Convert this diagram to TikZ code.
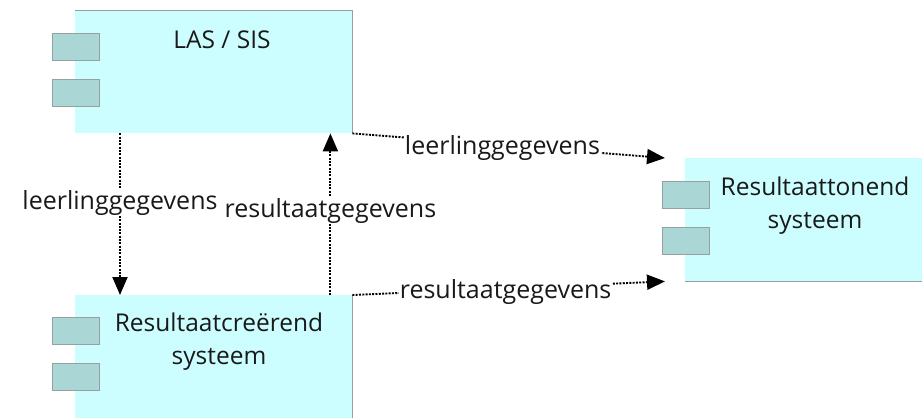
\documentclass[tikz,border=0pt]{standalone}
\usepackage{fontspec}
\setmainfont{Open Sans}
\usetikzlibrary{arrows.meta,calc}
\definecolor{boxfill}{RGB}{204,254,255}
\definecolor{portfill}{RGB}{170,214,214}
\definecolor{edgegray}{RGB}{150,160,160}
\definecolor{txt}{RGB}{25,25,25}
\tikzset{
  sysbox/.style={fill=boxfill, draw=none, inner sep=0pt, anchor=north west},
  port/.style={fill=portfill, draw=edgegray, line width=0.8pt, minimum width=47pt, minimum height=27pt, inner sep=0pt, anchor=north west},
  flow/.style={draw=black, line width=1.9pt, dash pattern=on 2pt off 1.3pt, -{Triangle[length=18pt,width=15pt]}},
  lab/.style={fill=white, text=txt, inner sep=1pt, font=\fontsize{25}{29}\selectfont},
  title/.style={text=txt, align=center, font=\fontsize{24.5}{33}\selectfont}
}
\begin{document}
\begin{tikzpicture}[x=1pt,y=-1pt]
\useasboundingbox (0,0) rectangle (922,418);
% boxes
\node[sysbox, minimum width=277pt, minimum height=123pt] (las) at (75,10) {};
\node[sysbox, minimum width=277pt, minimum height=123pt] (res) at (75,295) {};
\node[sysbox, minimum width=240pt, minimum height=123pt] (ton) at (685,158) {};
\draw[edgegray, line width=0.8pt] (las.north west) -- (las.north east) -- (las.south east);
\draw[edgegray, line width=0.8pt] (res.north east) -- (res.south east);
\draw[edgegray, line width=0.8pt] (ton.south west) -- (ton.south east);
% ports
\node[port] (p1) at (52,33) {};
\node[port] (p2) at (52,79) {};
\node[port] (p3) at (52,317) {};
\node[port] (p4) at (52,363) {};
\node[port] (p5) at (662,181) {};
\node[port] (p6) at (662,227) {};
% titles
\node[title] (tlas) at (222,40) {LAS / SIS};
\node[title] (tres) at (219,342) {Resultaatcreërend\\systeem};
\node[title] (tton) at (815,206) {Resultaattonend\\systeem};
% connectors
\draw[flow] ([xshift=45pt]las.south west) -- ([xshift=45pt]res.north west)
  node[lab, pos=0.43] (l1) {leerlinggegevens};
\draw[flow] ([xshift=-22pt]res.north east) -- ([xshift=-22pt]las.south east)
  node[lab, pos=0.52] (l2) {resultaatgegevens};
\draw[flow] (las.south east) -- ([xshift=-20pt]ton.north west)
  node[lab, pos=0.48, yshift=-3pt] (l3) {leerlinggegevens};
\draw[flow] (res.north east) -- ([xshift=-20pt]ton.south west)
  node[lab, pos=0.49, yshift=-4pt] (l4) {resultaatgegevens};
\end{tikzpicture}
\end{document}
